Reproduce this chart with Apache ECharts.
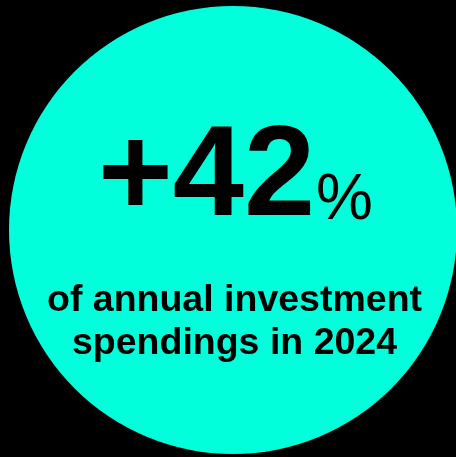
<!DOCTYPE html>
<html>
<head>
<meta charset="utf-8">
<script src="https://cdn.jsdelivr.net/npm/echarts@6/dist/echarts.min.js"></script>
<style>
html,body{margin:0;padding:0;background:#000;}
#chart{width:456px;height:457px;}
</style>
</head>
<body>
<div id="chart"></div>
<script>
const headlineValue = [42];
const headlinePrefix = '+';
const headlineUnit = '%';
const captionLines = ['of annual investment', 'spendings in 2024'];

const chart = echarts.init(document.getElementById('chart'), null, {renderer: 'canvas'});
const FONT = '"Liberation Sans", Arial, sans-serif';
chart.setOption({
  backgroundColor: '#000000',
  animation: false,
  series: [{
    type: 'pie',
    silent: true,
    z: 1,
    center: [233, 230],
    radius: [0, 224],
    label: {show: false},
    labelLine: {show: false},
    itemStyle: {color: '#00FFDA'},
    data: [{value: headlineValue[0], name: 'value'}]
  }],
  graphic: {
    elements: [
      {
        type: 'text', left: 98, top: 116, silent: true, z: 100,
        style: {text: headlinePrefix + headlineValue[0], fill: '#000', font: 'bold 128px ' + FONT}
      },
      {
        type: 'text', left: 316, top: 169, silent: true, z: 100,
        style: {text: headlineUnit, fill: '#000', font: 'normal 64px ' + FONT}
      },
      {
        type: 'text', x: 234.5, y: 279, silent: true, z: 100,
        style: {text: captionLines.join('\n'), fill: '#000', font: 'bold 37.5px ' + FONT, textAlign: 'center', textVerticalAlign: 'top', lineHeight: 43}
      }
    ]
  }
});
</script>
</body>
</html>
